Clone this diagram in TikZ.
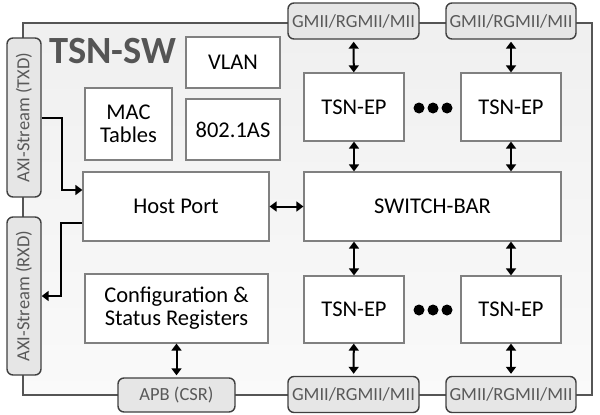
\documentclass[tikz,border=0pt]{standalone}
\usepackage{fontspec}
\setmainfont{Carlito}
\usetikzlibrary{arrows.meta}
\definecolor{framegray}{HTML}{555555}
\definecolor{boxgray}{HTML}{808080}
\definecolor{portfill}{HTML}{E6E6E6}
\definecolor{porttext}{HTML}{595959}

\begin{document}
\begin{tikzpicture}
[x=1pt, y=-1pt, >={Triangle[length=7pt, width=10pt]},
 every node/.style={inner sep=0pt, align=center},
 block/.style={rectangle, fill=white, line width=1.2pt, draw=boxgray, font=\fontsize{22.5}{25}\selectfont},
 port/.style={rectangle, rounded corners=6pt, fill=portfill, line width=1.4pt, draw=black!75, text=porttext, font=\fontsize{18.5}{20}\selectfont},
 link/.style={line width=2pt, color=black}]
\useasboundingbox (0,0) rectangle (600,415);
\node (sw) [rectangle, minimum width=569pt, minimum height=372pt, top color=black!6, bottom color=black!2, line width=2pt, draw=framegray] at (307.5, 209) {};
\node (title) [anchor=west, text=framegray, font=\fontsize{38.5}{40}\selectfont\bfseries] at (49, 51) {TSN-SW};
\node (txd) [port, minimum width=34pt, minimum height=159pt] at (24, 117.5) {\rotatebox{90}{AXI-Stream (TXD)}};
\node (rxd) [port, minimum width=34pt, minimum height=158pt] at (24, 296) {\rotatebox{90}{AXI-Stream (RXD)}};
\node (vlan) [block, minimum width=94pt, minimum height=51pt] at (233, 62.5) {VLAN};
\node (mac) [block, minimum width=87pt, minimum height=72pt] at (128.5, 124) {MAC\\[-2pt]Tables};
\node (as) [block, minimum width=94pt, minimum height=61pt] at (233, 129.5) {802.1AS};
\node (host) [block, minimum width=186pt, minimum height=69pt] at (176, 206.5) {Host Port};
\node (csr) [block, minimum width=183pt, minimum height=69pt] at (176.5, 308.5) {Configuration \&\\[-2pt]Status Registers};
\node (apb) [port, minimum width=117pt, minimum height=34pt] at (176.5, 395) {APB (CSR)};
\node (bar) [block, minimum width=257pt, minimum height=69pt] at (432.5, 206.5) {SWITCH-BAR};
\node (ep1) [block, minimum width=100pt, minimum height=68pt] at (354, 107) {TSN-EP};
\node (ep2) [block, minimum width=100pt, minimum height=68pt] at (511, 107) {TSN-EP};
\node (ep3) [block, minimum width=100pt, minimum height=67pt] at (354, 309.5) {TSN-EP};
\node (ep4) [block, minimum width=100pt, minimum height=67pt] at (511, 309.5) {TSN-EP};
\node (gmii1) [port, minimum width=131pt, minimum height=36pt] at (353.5, 21) {GMII/RGMII/MII};
\node (gmii2) [port, minimum width=130pt, minimum height=36pt] at (511, 21) {GMII/RGMII/MII};
\node (gmii3) [port, minimum width=131pt, minimum height=36pt] at (353.5, 394.5) {GMII/RGMII/MII};
\node (gmii4) [port, minimum width=130pt, minimum height=36pt] at (511, 394.5) {GMII/RGMII/MII};
% dots between the endpoints
\foreach \y in {108, 310}
  \foreach \x in {419, 433, 447}
    \fill (\x, \y) circle (5.5);
\draw [link, ->] (txd.east) -- ++(20, 0) |- ([yshift=16.5pt]host.west);
\draw [link, ->] ([yshift=-16.5pt]host.west) -- ++(-21, 0) |- (rxd.east);
\draw [link, <->] (host) to (bar);
\draw [link, <->, shorten <=2pt] (gmii1) to (ep1);
\draw [link, <->, shorten <=2pt] (gmii2) to (ep2);
\draw [link, <->] (ep1) to (bar.north -| ep1);
\draw [link, <->] (ep2) to (bar.north -| ep2);
\draw [link, <->] (bar.south -| ep3) to (ep3);
\draw [link, <->] (bar.south -| ep4) to (ep4);
\draw [link, <->, shorten >=2pt] (ep3) to (gmii3);
\draw [link, <->, shorten >=2pt] (ep4) to (gmii4);
\draw [link, <->, shorten >=2pt] (csr) to (apb);

\end{tikzpicture}
\end{document}
